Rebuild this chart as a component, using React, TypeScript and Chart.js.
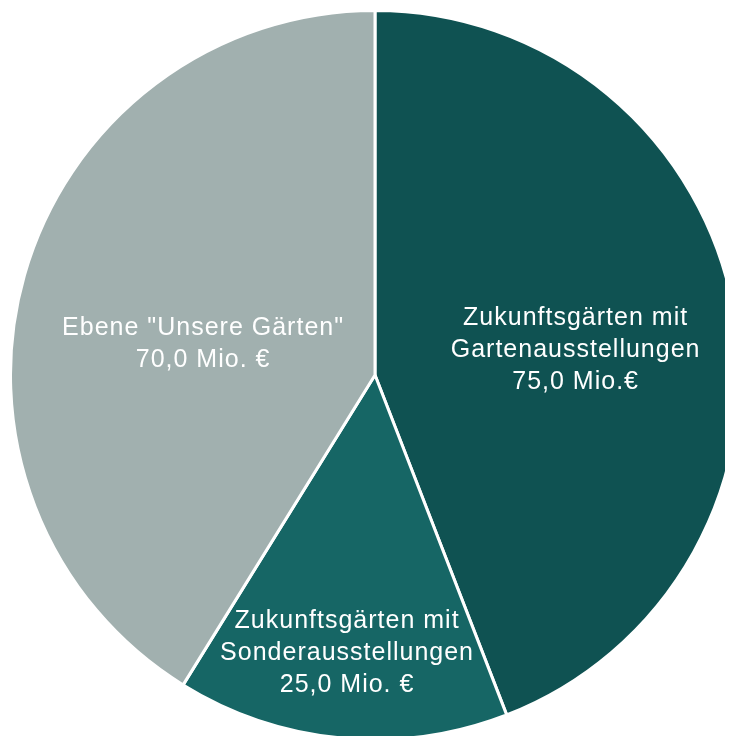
import React, { useEffect, useRef } from "react";
import { Chart, registerables } from "chart.js";

Chart.register(...registerables);

const categories = [
  "Zukunftsgärten mit Gartenausstellungen",
  "Zukunftsgärten mit Sonderausstellungen",
  'Ebene "Unsere Gärten"',
];
const values = [75, 25, 70];
const labelLines = [
  ["Zukunftsgärten mit", "Gartenausstellungen", "75,0 Mio.€"],
  ["Zukunftsgärten mit", "Sonderausstellungen", "25,0 Mio. €"],
  ['Ebene "Unsere Gärten"', "70,0 Mio. €"],
];
const colors = ["#0f5252", "#166665", "#a1b0af"];
// label block centre as fraction of radius (dx, dy) from pie centre
const labelAnchors = [
  [0.549, -0.074],
  [-0.078, 0.758],
  [-0.473, -0.091],
];

const labelPlugin = {
  id: "sliceLabels",
  afterDatasetsDraw(chart: any) {
    const ctx = chart.ctx;
    const meta = chart.getDatasetMeta(0);
    ctx.save();
    ctx.fillStyle = "#ffffff";
    ctx.font = "25px 'Liberation Sans', Arial, sans-serif";
    try {
      (ctx as any).letterSpacing = "1px";
    } catch (e) {}
    ctx.textAlign = "center";
    ctx.textBaseline = "alphabetic";
    const capHalf = 25 * 0.716 / 2;
    meta.data.forEach((arc: any, i: number) => {
      const r = arc.outerRadius;
      const cx = arc.x + labelAnchors[i][0] * r;
      const cy = arc.y + labelAnchors[i][1] * r;
      const lines = labelLines[i];
      const lh = 32;
      const start = cy - ((lines.length - 1) * lh) / 2;
      lines.forEach((t, k) => ctx.fillText(t, cx + 0.5, start + k * lh + capHalf));
    });
    ctx.restore();
  },
};

export default function App() {
  const ref = useRef<HTMLCanvasElement>(null);
  useEffect(() => {
    if (!ref.current) return;
    const chart = new Chart(ref.current, {
      type: "pie",
      data: {
        labels: categories,
        datasets: [
          {
            data: values,
            backgroundColor: colors,
            borderColor: "#ffffff",
            borderWidth: 3,
          },
        ],
      },
      options: {
        responsive: false,
        animation: false,
        layout: { padding: 1 },
        plugins: {
          legend: { display: false },
          tooltip: { enabled: false },
        },
      },
      plugins: [labelPlugin],
    });
    return () => chart.destroy();
  }, []);
  return (
    <div style={{ width: 734, height: 734 }}>
      <canvas ref={ref} width={734} height={734} style={{ display: "block" }} />
    </div>
  );
}
